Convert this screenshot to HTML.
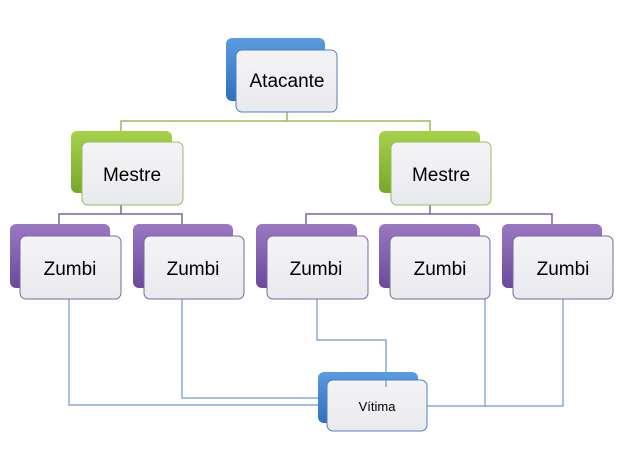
<!DOCTYPE html>
<html><head><style>
html,body{margin:0;padding:0;background:#fff;}
svg{display:block;}
text{font-family:"Liberation Sans",sans-serif;fill:#000;}
</style></head><body>
<svg width="620" height="449" viewBox="0 0 620 449" xmlns="http://www.w3.org/2000/svg">
<defs>
<linearGradient id="gb" x1="0" y1="0" x2="0" y2="1"><stop offset="0" stop-color="#5b9be0"/><stop offset="1" stop-color="#2f6fc0"/></linearGradient>
<linearGradient id="gg" x1="0" y1="0" x2="0" y2="1"><stop offset="0" stop-color="#a6d24a"/><stop offset="1" stop-color="#76a92a"/></linearGradient>
<linearGradient id="gp" x1="0" y1="0" x2="0" y2="1"><stop offset="0" stop-color="#9a78c4"/><stop offset="1" stop-color="#6a4a9a"/></linearGradient>
<linearGradient id="gf" x1="0" y1="0" x2="0" y2="1"><stop offset="0" stop-color="#f4f4f6"/><stop offset="1" stop-color="#e9eaee"/></linearGradient>
</defs>
<g fill="none" stroke-width="1.5">
<path d="M287 112V121M121 131V121H430V131" stroke="#9bbb59"/>
<path d="M121 205V214M59 224V214H182V224M430 205V214M306 224V214H552V224" stroke="#8064a2"/>
</g>
<g fill="none" stroke="#6f96cc" stroke-width="1.2">
<path d="M69 299V405H327"/>
<path d="M182 299V398H320"/>
<path d="M317 299V340H386V387"/>
<path d="M485 299V406H427"/>
<path d="M563 299V406H485"/>
</g>
<!-- Atacante -->
<rect x="226" y="38" width="99" height="63" rx="6" fill="url(#gb)"/>
<rect x="236" y="50" width="101" height="62" rx="6" fill="url(#gf)" stroke="#4f81bd" stroke-width="1"/>
<text x="287" y="87" font-size="19" text-anchor="middle">Atacante</text>
<!-- Mestre -->
<rect x="71" y="131" width="101" height="62" rx="6" fill="url(#gg)"/>
<rect x="82" y="142" width="101" height="63" rx="6" fill="url(#gf)" stroke="#9bbb59"/>
<text x="132" y="181" font-size="19" text-anchor="middle">Mestre</text>
<rect x="379" y="131" width="101" height="62" rx="6" fill="url(#gg)"/>
<rect x="391" y="142" width="100" height="63" rx="6" fill="url(#gf)" stroke="#9bbb59"/>
<text x="441" y="181" font-size="19" text-anchor="middle">Mestre</text>
<!-- Zumbis -->
<g font-size="19" text-anchor="middle">
<rect x="10" y="224" width="100" height="64" rx="6" fill="url(#gp)"/>
<rect x="20" y="236" width="101" height="63" rx="6" fill="url(#gf)" stroke="#8064a2"/>
<text x="70" y="275">Zumbi</text>
<rect x="133" y="224" width="100" height="64" rx="6" fill="url(#gp)"/>
<rect x="144" y="236" width="100" height="63" rx="6" fill="url(#gf)" stroke="#8064a2"/>
<text x="193" y="275">Zumbi</text>
<rect x="256" y="224" width="101" height="64" rx="6" fill="url(#gp)"/>
<rect x="267" y="236" width="101" height="63" rx="6" fill="url(#gf)" stroke="#8064a2"/>
<text x="316" y="275">Zumbi</text>
<rect x="379" y="224" width="101" height="64" rx="6" fill="url(#gp)"/>
<rect x="390" y="236" width="100" height="63" rx="6" fill="url(#gf)" stroke="#8064a2"/>
<text x="440" y="275">Zumbi</text>
<rect x="502" y="224" width="100" height="64" rx="6" fill="url(#gp)"/>
<rect x="513" y="236" width="100" height="63" rx="6" fill="url(#gf)" stroke="#8064a2"/>
<text x="563" y="275">Zumbi</text>
</g>
<!-- Vitima -->
<rect x="318" y="372" width="100" height="51" rx="6" fill="url(#gb)"/>
<rect x="327" y="380" width="100" height="51" rx="6" fill="url(#gf)" stroke="#4f81bd"/>
<line x1="386" y1="380" x2="386" y2="387" stroke="#6f96cc" stroke-width="1.2"/>
<text x="377" y="411" font-size="13" text-anchor="middle">Vítima</text>
</svg>
</body></html>
